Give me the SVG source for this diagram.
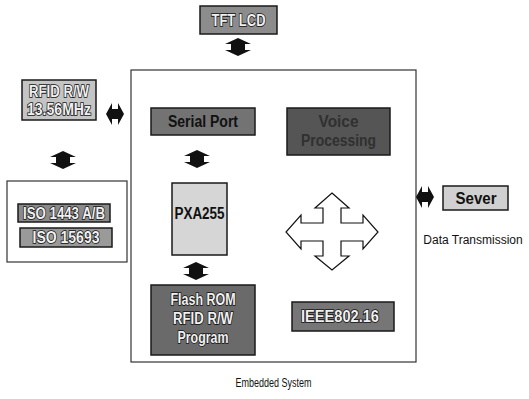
<svg xmlns="http://www.w3.org/2000/svg" width="529" height="399" viewBox="0 0 529 399">
  <defs>
    <style>
      .frame { fill: #ffffff; stroke: #333333; stroke-width: 1.2; }
      .box { stroke: #1a1a1a; stroke-width: 1.5; }
      .lbl { font-family: "Liberation Sans", Arial, sans-serif; font-weight: bold; text-anchor: middle; font-size: 16px; }
      .outl { fill: #f0f0f0; stroke: #111111; stroke-width: 1.6; paint-order: stroke; }
      .dark { fill: #111111; }
      .cap { font-family: "Liberation Sans", Arial, sans-serif; font-size: 12px; fill: #111111; text-anchor: middle; }
      .arr { fill: #111111; }
    </style>
    <!-- vertical double-headed arrow, centred on 0,0 -->
    <path id="dv" d="M0,-9 L13,-3 L7,-3 L7,3 L13,3 L0,9 L-13,3 L-7,3 L-7,-3 L-13,-3 Z"/>
    <!-- horizontal double-headed arrow, centred on 0,0 -->
    <path id="dh" d="M-9,0 L-3,-11 L-3,-5 L3,-5 L3,-11 L9,0 L3,11 L3,5 L-3,5 L-3,11 Z"/>
  </defs>

  <!-- outer frames -->
  <rect id="embedded-frame" class="frame" x="131" y="70" width="285" height="292"/>
  <rect id="iso-frame" class="frame" x="7" y="181" width="120" height="81"/>

  <g id="tft-lcd">
    <rect class="box" x="200" y="6" width="77" height="28" fill="#8c8c8c"/>
    <text class="lbl outl" x="238.5" y="26" textLength="54" lengthAdjust="spacingAndGlyphs">TFT LCD</text>
  </g>

  <g id="rfid-rw">
    <rect class="box" x="22" y="80" width="74" height="40" fill="#c4c4c4"/>
    <text class="lbl outl" x="59" y="97" textLength="60" lengthAdjust="spacingAndGlyphs">RFID R/W</text>
    <text class="lbl outl" x="59" y="115" textLength="64" lengthAdjust="spacingAndGlyphs">13.56MHz</text>
  </g>

  <g id="iso-1443">
    <rect class="box" x="18" y="204" width="92" height="18" fill="#8a8a8a"/>
    <text class="lbl outl" x="64" y="218.5" font-size="15" textLength="82" lengthAdjust="spacingAndGlyphs">ISO 1443 A/B</text>
  </g>

  <g id="iso-15693">
    <rect class="box" x="20" y="228" width="92" height="19" fill="#9a9a9a"/>
    <text class="lbl outl" x="66" y="243" font-size="15" textLength="67" lengthAdjust="spacingAndGlyphs">ISO 15693</text>
  </g>

  <g id="serial-port">
    <rect class="box" x="151" y="108" width="104" height="27" fill="#737373"/>
    <text class="lbl dark" x="203" y="127" textLength="70" lengthAdjust="spacingAndGlyphs">Serial Port</text>
  </g>

  <g id="voice-processing">
    <rect class="box" x="287" y="108" width="103" height="47" fill="#555555"/>
    <text class="lbl" x="338.5" y="127" fill="#303030" textLength="40" lengthAdjust="spacingAndGlyphs">Voice</text>
    <text class="lbl" x="338.5" y="146" fill="#303030" textLength="75" lengthAdjust="spacingAndGlyphs">Processing</text>
  </g>

  <g id="pxa255">
    <rect class="box" x="172" y="183" width="55" height="72" fill="#d6d6d6"/>
    <text class="lbl dark" x="199.5" y="219" font-size="17" textLength="50" lengthAdjust="spacingAndGlyphs">PXA255</text>
  </g>

  <g id="flash-rom">
    <rect class="box" x="151" y="285" width="104" height="70" fill="#6a6a6a"/>
    <text class="lbl outl" x="203" y="305" textLength="65" lengthAdjust="spacingAndGlyphs">Flash ROM</text>
    <text class="lbl outl" x="203" y="324" textLength="60" lengthAdjust="spacingAndGlyphs">RFID R/W</text>
    <text class="lbl outl" x="203" y="343" textLength="51" lengthAdjust="spacingAndGlyphs">Program</text>
  </g>

  <g id="ieee80216">
    <rect class="box" x="292" y="302" width="102" height="29" fill="#767676"/>
    <text class="lbl outl" x="340" y="322" textLength="78" lengthAdjust="spacingAndGlyphs">IEEE802.16</text>
  </g>

  <g id="sever">
    <rect class="box" x="443" y="186" width="65" height="24" fill="#d0d0d0"/>
    <text class="lbl dark" x="476" y="203.5" textLength="41" lengthAdjust="spacingAndGlyphs">Sever</text>
  </g>

  <!-- captions -->
  <text class="cap" x="473" y="244">Data Transmission</text>
  <text class="cap" x="273.5" y="387" font-size="14" textLength="76" lengthAdjust="spacingAndGlyphs">Embedded System</text>

  <!-- connectors -->
  <g id="connectors">
    <use href="#dv" class="arr" x="238" y="47"/>
    <use href="#dh" class="arr" x="115" y="114"/>
    <use href="#dv" class="arr" x="63" y="160"/>
    <use href="#dv" class="arr" x="197" y="159"/>
    <use href="#dv" class="arr" x="196" y="271"/>
    <use href="#dh" class="arr" x="425" y="197"/>
    <!-- four-way arrow inside the embedded system -->
    <path d="M332,193 L349,208 L341,208 L341,223 L363,223 L363,215 L378,232 L363,249 L363,241 L341,241 L341,256 L349,256 L332,270 L315,256 L323,256 L323,241 L301,241 L301,249 L286,232 L301,215 L301,223 L323,223 L323,208 L315,208 Z" fill="#ffffff" stroke="#111111" stroke-width="1.2"/>
  </g>
</svg>
